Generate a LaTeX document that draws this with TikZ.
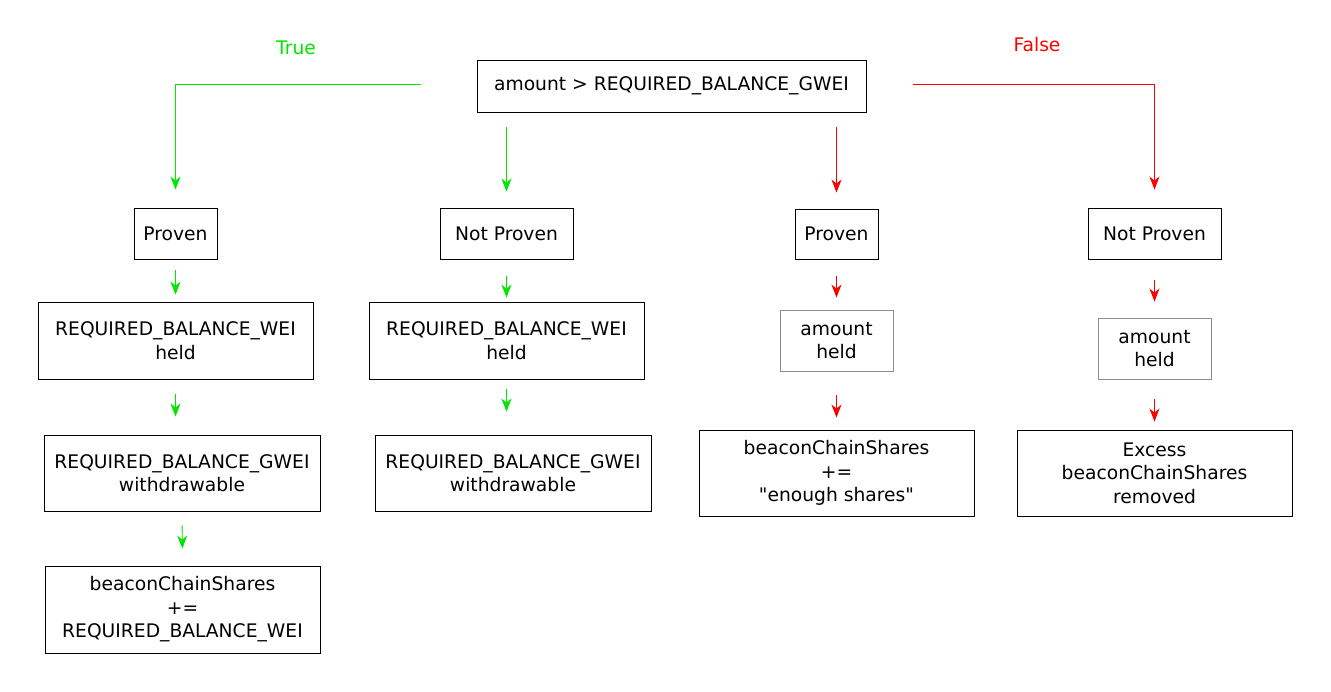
\documentclass[tikz,border=0pt]{standalone}
\usepackage{fontspec}
\setmainfont{DejaVu Sans}
\usetikzlibrary{arrows.meta}
\definecolor{yesgreen}{RGB}{0,230,0}
\definecolor{nored}{RGB}{255,0,0}
\tikzset{
 box/.style={draw,line width=0.9pt,align=center,inner sep=0pt,font=\fontsize{18.7}{23.5}\selectfont},
 graybox/.style={box,draw=black!45},
 yes/.style={draw=yesgreen,line width=0.9pt,-{Stealth[length=13pt,width=10pt,inset=4pt]}},
 no/.style={draw=nored,line width=0.9pt,-{Stealth[length=13pt,width=10pt,inset=4pt]}}
}
\begin{document}
\begin{tikzpicture}[x=1pt,y=-1pt]
 \useasboundingbox (0,0) rectangle (1331,692);
 % condition and branch labels
 \node[box,minimum width=389pt,minimum height=52pt] (cond) at (671.5,86) {amount > REQUIRED\_BALANCE\_GWEI};
 \node[text=yesgreen,font=\fontsize{18.7}{22}\selectfont] (yesLbl) at (296,48) {True};
 \node[text=nored,font=\fontsize{18.7}{22}\selectfont] (noLbl) at (1037,45) {False};
 % proven / not proven
 \node[box,minimum width=83pt,minimum height=51pt] (prvA) at (175.5,233.5) {Proven};
 \node[box,minimum width=133pt,minimum height=51pt] (npA) at (506.5,233.5) {Not Proven};
 \node[box,minimum width=83pt,minimum height=50pt] (prvB) at (836.5,234) {Proven};
 \node[box,minimum width=133pt,minimum height=51pt] (npB) at (1154.5,233.5) {Not Proven};
 % held
 \node[box,minimum width=275pt,minimum height=77pt] (heldA) at (175.5,340.5) {REQUIRED\_BALANCE\_WEI\\held};
 \node[box,minimum width=275pt,minimum height=77pt] (heldB) at (506.5,340.5) {REQUIRED\_BALANCE\_WEI\\held};
 \node[graybox,minimum width=113pt,minimum height=61pt] (amtA) at (836.5,340.5) {amount\\held};
 \node[graybox,minimum width=113pt,minimum height=61pt] (amtB) at (1154.5,348.5) {amount\\held};
 % results
 \node[box,minimum width=276pt,minimum height=76pt] (wdA) at (182,473) {REQUIRED\_BALANCE\_GWEI\\withdrawable};
 \node[box,minimum width=276pt,minimum height=76pt] (wdB) at (513,473) {REQUIRED\_BALANCE\_GWEI\\withdrawable};
 \node[box,minimum width=275pt,minimum height=86pt] (addB) at (836.5,473) {beaconChainShares\\+=\\\textquotedbl enough shares\textquotedbl};
 \node[box,minimum width=275pt,minimum height=86pt] (cutB) at (1154.5,473) {Excess\\beaconChainShares\\removed};
 \node[box,minimum width=275pt,minimum height=87pt] (addA) at (182.5,609.5) {beaconChainShares\\+=\\REQUIRED\_BALANCE\_WEI};
 % branches
 \draw[yes,shorten <=56pt,shorten >=18pt] ([yshift=2pt]cond.west) -| (prvA.north);
 \draw[yes,shorten <=15pt,shorten >=16pt] (cond.south -| npA.north) -- (npA.north);
 \draw[no,shorten <=15pt,shorten >=16pt] (cond.south -| prvB.north) -- (prvB.north);
 \draw[no,shorten <=47pt,shorten >=18pt] ([yshift=2pt]cond.east) -| (npB.north);
 % steps
 \draw[yes,shorten <=11pt,shorten >=7pt] (prvA.south) -- (heldA.north);
 \draw[yes,shorten <=15pt,shorten >=18pt] (heldA.south) -- (heldA.south |- wdA.north);
 \draw[yes,shorten <=14pt,shorten >=17pt] (wdA.south) -- (addA.north);
 \draw[yes,shorten <=17pt,shorten >=4pt] (npA.south) -- (heldB.north);
 \draw[yes,shorten <=10pt,shorten >=23pt] (heldB.south) -- (heldB.south |- wdB.north);
 \draw[no,shorten <=17pt,shorten >=12pt] (prvB.south) -- (amtA.north);
 \draw[no,shorten <=24pt,shorten >=12pt] (amtA.south) -- (addB.north);
 \draw[no,shorten <=21pt,shorten >=16pt] (npB.south) -- (amtB.north);
 \draw[no,shorten <=20pt,shorten >=8pt] (amtB.south) -- (cutB.north);
\end{tikzpicture}
\end{document}
